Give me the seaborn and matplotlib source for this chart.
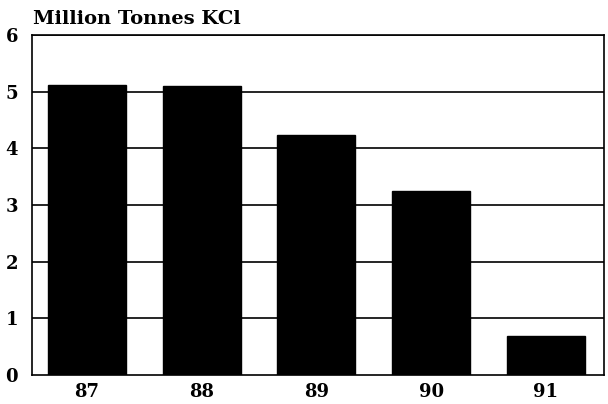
import matplotlib
matplotlib.use("Agg")
import matplotlib.pyplot as plt
import seaborn as sns
import pandas as pd

years = ["87", "88", "89", "90", "91"]
values = [5.11, 5.10, 4.23, 3.24, 0.69]
yticks = [0, 1, 2, 3, 4, 5, 6]

sns.set_theme(style="white")
plt.rcParams['font.family'] = ['DejaVu Serif']

df = pd.DataFrame({"year": years, "value": values})
fig = plt.figure(figsize=(6.08, 4.04), dpi=100)
ax = fig.add_axes([32/608, 1-375/404, 572/608, 340/404])
sns.barplot(data=df, x="year", y="value", color="black", saturation=1,
            width=0.68, ax=ax, zorder=3)
for p in ax.patches:
    p.set_edgecolor("black")
ax.set_ylim(0, 6)
ax.set_yticks(yticks)
ax.set_xlim(-0.479, 4.506)
for y in yticks[1:]:
    ax.axhline(y, color="black", lw=1.2, zorder=1)
for s in ax.spines.values():
    s.set_visible(True)
    s.set_color("black")
    s.set_linewidth(1.2)
ax.set_xlabel("")
ax.set_ylabel("")
ax.tick_params(axis="both", length=0, labelsize=13, colors="black")
for lab in ax.get_xticklabels() + ax.get_yticklabels():
    lab.set_fontweight("bold")
ax.tick_params(axis="y", pad=10)
ax.tick_params(axis="x", pad=6)
fig.text(33/608, 1-19/404, "Million Tonnes KCl", fontsize=14, fontweight="bold",
         ha="left", va="center", color="black")
fig.savefig("out.png", dpi=100, facecolor="white")
